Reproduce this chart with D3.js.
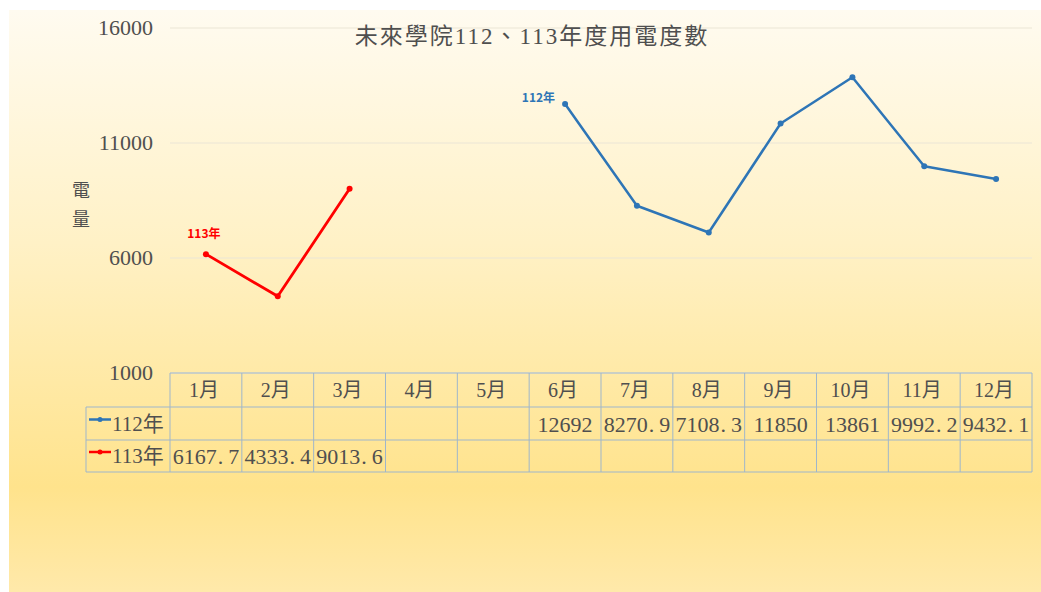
<!DOCTYPE html>
<html>
<head>
<meta charset="utf-8">
<script src="https://cdn.jsdelivr.net/npm/d3@7"></script>
<style>
  body { margin: 0; background: #fff; }
  svg { display: block; }
</style>
</head>
<body>
<svg width="1041" height="592"></svg>
<script>
  var months = ["1月", "2月", "3月", "4月", "5月", "6月", "7月", "8月", "9月", "10月", "11月", "12月"];
  var seriesNames = ["112年", "113年"];
  var values112 = [null, null, null, null, null, 12692, 8270.9, 7108.3, 11850, 13861, 9992.2, 9432.1];
  var values113 = [6167.7, 4333.4, 9013.6, null, null, null, null, null, null, null, null, null];
  var yTicks = [1000, 6000, 11000, 16000];
  var colors = ["#2e75b6", "#ff0000"];

  var svg = d3.select("svg");
  var textColor = "#4f4f4f";
  var numFont = "'Liberation Serif', 'Noto Sans CJK TC', serif";

  // background gradient
  var defs = svg.append("defs");
  var grad = defs.append("linearGradient")
    .attr("id", "bg").attr("x1", 0).attr("y1", 0).attr("x2", 0).attr("y2", 1);
  grad.append("stop").attr("offset", "0%").attr("stop-color", "#fffbf0");
  grad.append("stop").attr("offset", "40%").attr("stop-color", "#fff1c6");
  grad.append("stop").attr("offset", "82%").attr("stop-color", "#ffe38c");
  grad.append("stop").attr("offset", "100%").attr("stop-color", "#ffe9aa");

  svg.append("rect")
    .attr("x", 9).attr("y", 10).attr("width", 1032).attr("height", 582)
    .attr("fill", "url(#bg)");

  var xScale = d3.scaleBand()
    .domain(months)
    .range([170, 1032]);

  var yScale = d3.scaleLinear()
    .domain([1000, 16000])
    .range([373, 28]);

  var xMid = function (m) { return xScale(m) + xScale.bandwidth() / 2; };

  // gridlines
  svg.append("g").selectAll("line")
    .data(yTicks)
    .enter()
    .append("line")
    .attr("x1", 170).attr("x2", 1032)
    .attr("y1", function (d) { return yScale(d); })
    .attr("y2", function (d) { return yScale(d); })
    .attr("stroke", "#ebe5d5")
    .attr("stroke-width", 1.2);

  // y axis labels
  svg.append("g").selectAll("text")
    .data(yTicks)
    .enter()
    .append("text")
    .attr("x", 153)
    .attr("y", function (d) { return yScale(d) + 7; })
    .attr("text-anchor", "end")
    .attr("font-family", numFont)
    .attr("font-size", 22)
    .attr("fill", textColor)
    .text(function (d) { return d; });

  // title
  svg.append("text")
    .attr("x", 532).attr("y", 44)
    .attr("text-anchor", "middle")
    .attr("font-family", numFont)
    .attr("font-size", 23)
    .attr("letter-spacing", 2)
    .attr("fill", textColor)
    .text("未來學院112、113年度用電度數");

  // y axis title (vertical)
  var yt = svg.append("text")
    .attr("font-family", "'Noto Sans CJK TC', sans-serif")
    .attr("font-size", 18)
    .attr("fill", textColor)
    .attr("text-anchor", "middle");
  yt.append("tspan").attr("x", 81).attr("y", 197).text("電");
  yt.append("tspan").attr("x", 81).attr("y", 226).text("量");

  // lines
  var allSeries = [values112, values113];
  var line = d3.line()
    .defined(function (d) { return d != null; })
    .x(function (d, i) { return xMid(months[i]); })
    .y(function (d) { return yScale(d); });

  allSeries.forEach(function (vals, si) {
    svg.append("path")
      .datum(vals)
      .attr("d", line)
      .attr("fill", "none")
      .attr("stroke", colors[si])
      .attr("stroke-width", si === 1 ? 2.8 : 2.5)
      .attr("stroke-linejoin", "round");

    svg.append("g").selectAll("circle")
      .data(vals.map(function (v, i) { return { v: v, m: months[i] }; })
        .filter(function (d) { return d.v != null; }))
      .enter()
      .append("circle")
      .attr("cx", function (d) { return xMid(d.m); })
      .attr("cy", function (d) { return yScale(d.v); })
      .attr("r", 3)
      .attr("fill", colors[si]);
  });

  // series labels at first point
  var first112 = values112.findIndex(function (v) { return v != null; });
  svg.append("text")
    .attr("x", xMid(months[first112]) - 10)
    .attr("y", yScale(values112[first112]) - 2)
    .attr("text-anchor", "end")
    .attr("font-family", "'Noto Sans CJK TC', sans-serif")
    .attr("font-weight", "bold")
    .attr("font-size", 12)
    .attr("fill", colors[0])
    .text(seriesNames[0]);

  var first113 = values113.findIndex(function (v) { return v != null; });
  svg.append("text")
    .attr("x", xMid(months[first113]) - 2)
    .attr("y", yScale(values113[first113]) - 16)
    .attr("text-anchor", "middle")
    .attr("font-family", "'Noto Sans CJK TC', sans-serif")
    .attr("font-weight", "bold")
    .attr("font-size", 12)
    .attr("fill", colors[1])
    .text(seriesNames[1]);

  // data table
  var rowTops = [373, 407, 440, 472];
  var table = svg.append("g")
    .attr("stroke", "#9fb6cb")
    .attr("stroke-width", 1)
    .attr("fill", "none");

  // horizontal borders
  rowTops.forEach(function (y, i) {
    table.append("line")
      .attr("x1", i === 0 ? 170 : 86).attr("x2", 1032)
      .attr("y1", y).attr("y2", y);
  });
  // vertical borders
  table.append("line").attr("x1", 86).attr("x2", 86).attr("y1", 407).attr("y2", 472);
  xScale.domain().concat(["end"]).forEach(function (m) {
    var x = m === "end" ? 1032 : xScale(m);
    table.append("line").attr("x1", x).attr("x2", x).attr("y1", 373).attr("y2", 472);
  });

  // header
  svg.append("g").selectAll("text")
    .data(months)
    .enter()
    .append("text")
    .attr("x", function (d) { return xMid(d) - 2; })
    .attr("y", 397)
    .attr("text-anchor", "middle")
    .attr("font-family", numFont)
    .attr("font-size", 20)
    .attr("fill", textColor)
    .text(function (d) { return d; });

  // row labels with legend keys
  seriesNames.forEach(function (name, si) {
    var cy = (rowTops[si + 1] + rowTops[si + 2]) / 2;
    svg.append("line")
      .attr("x1", 89).attr("x2", 111)
      .attr("y1", cy - 4).attr("y2", cy - 4)
      .attr("stroke", colors[si]).attr("stroke-width", 2.5);
    svg.append("circle")
      .attr("cx", 100).attr("cy", cy - 4).attr("r", 2.5)
      .attr("fill", colors[si]);
    svg.append("text")
      .attr("x", 112).attr("y", cy + 7)
      .attr("font-family", numFont)
      .attr("font-size", 21)
      .attr("fill", textColor)
      .text(name);
  });

  // cell values (wide decimal point like the original)
  allSeries.forEach(function (vals, si) {
    var cy = (rowTops[si + 1] + rowTops[si + 2]) / 2;
    vals.forEach(function (v, i) {
      if (v == null) return;
      var parts = String(v).split(".");
      var t = svg.append("text")
        .attr("x", xMid(months[i]))
        .attr("y", cy + 8)
        .attr("text-anchor", "middle")
        .attr("font-family", numFont)
        .attr("font-size", 22)
        .attr("fill", textColor);
      t.append("tspan").text(parts[0]);
      if (parts.length > 1) {
        t.append("tspan").attr("dx", 1).text(".");
        t.append("tspan").attr("dx", 5).text(parts[1]);
      }
    });
  });
</script>
</body>
</html>
